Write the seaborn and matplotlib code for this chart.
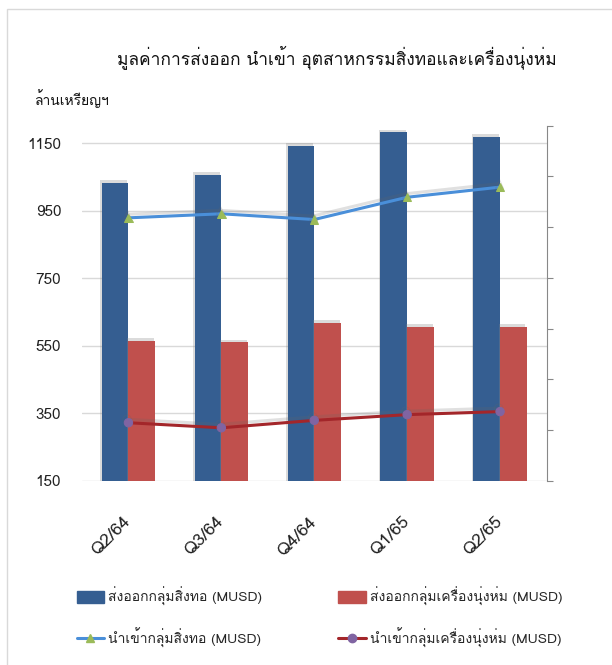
import numpy as np
import pandas as pd
import matplotlib
matplotlib.use("Agg")
import matplotlib.pyplot as plt
import matplotlib.patheffects as pe
import seaborn as sns
from matplotlib import font_manager
from fontTools.ttLib import TTFont

# Chart values (million USD)
quarters = ["Q2/64", "Q3/64", "Q4/64", "Q1/65", "Q2/65"]
export_textile = [1032, 1056, 1142, 1182, 1168]
export_garment = [565, 560, 617, 606, 606]
import_textile = [929, 941, 924, 990, 1020]
import_garment = [322, 307, 329, 346, 355]

series_names = ["ส่งออกกลุ่มสิ่งทอ (MUSD)", "ส่งออกกลุ่มเครื่องนุ่งห่ม (MUSD)",
                "นำเข้ากลุ่มสิ่งทอ (MUSD)", "นำเข้ากลุ่มเครื่องนุ่งห่ม (MUSD)"]
y_ticks = [150, 350, 550, 750, 950, 1150]
title = "มูลค่าการส่งออก นำเข้า อุตสาหกรรมสิ่งทอและเครื่องนุ่งห่ม"
unit_label = "ล้านเหรียญฯ"


def find_thai_family():
    found = []
    for f in font_manager.fontManager.ttflist:
        try:
            cmap = TTFont(f.fname, fontNumber=0, lazy=True).getBestCmap()
        except Exception:
            continue
        if cmap and 0x0E01 in cmap and 0x0E33 in cmap:
            found.append(f.name)
    return found[0] if found else None


sns.set_style("white")
thai = find_thai_family()
families = ["Liberation Sans", "DejaVu Sans"]
if thai:
    families = [thai] + families
plt.rcParams["font.family"] = families

bars = pd.DataFrame({
    "quarter": quarters * 2,
    "value": export_textile + export_garment,
    "series": [series_names[0]] * 5 + [series_names[1]] * 5,
})

fig = plt.figure(figsize=(6.12, 6.65), dpi=100)
ax = fig.add_axes([0.134, 0.277, 0.759, 0.534])

sns.barplot(data=bars, x="quarter", y="value", hue="series",
            palette=["#355E91", "#C0504D"], width=0.576, gap=0,
            saturation=1, linewidth=0, ax=ax, legend=False)
for p in ax.patches:
    p.set_path_effects([pe.SimplePatchShadow(offset=(-1, 2), shadow_rgbFace="#888888", alpha=0.3),
                        pe.Normal()])

xs = np.arange(len(quarters))
sns.lineplot(x=xs, y=import_textile, color="#4A8FD9", lw=2.2, marker="^",
             markersize=6, markerfacecolor="#9BBB59", markeredgecolor="#9BBB59", ax=ax)
sns.lineplot(x=xs, y=import_garment, color="#A3262A", lw=2.2, marker="o",
             markersize=6, markerfacecolor="#8064A2", markeredgecolor="#8064A2", ax=ax)
for ln in ax.lines:
    ln.set_path_effects([pe.SimpleLineShadow(offset=(-1, 2.5), shadow_color="#666666", alpha=0.2),
                         pe.Normal()])

ax.set_xlim(-0.5, len(quarters) - 0.5)
ax.set_ylim(150, 1202)
ax.set_yticks(y_ticks)
ax.set_yticklabels([str(v) for v in y_ticks], fontsize=11)
ax.set_xticks(xs)
ax.set_xticklabels(quarters, rotation=45, ha="right", va="center",
                   rotation_mode="anchor", fontsize=12.5)
ax.tick_params(axis="y", length=0, pad=15, colors="#222222")
ax.tick_params(axis="x", length=0, pad=28, colors="#222222")
ax.grid(axis="y", color="#D9D9D9", lw=1)
ax.set_axisbelow(True)
ax.set_xlabel("")
ax.set_ylabel("")
for s in ax.spines.values():
    s.set_visible(False)

# secondary axis on the right, no labels
ax2 = ax.twinx()
ax2.set_ylim(0, 7)
ax2.set_yticks(range(8))
ax2.set_yticklabels([])
ax2.tick_params(axis="y", length=4, color="#888888", direction="out")
for k, s in ax2.spines.items():
    s.set_visible(k == "right")
ax2.spines["right"].set_color("#888888")

fig.text(0.551, 0.914, title, ha="center", va="center", fontsize=12.5, color="#111111")
fig.text(0.057, 0.852, unit_label, ha="left", va="center", fontsize=10, color="#111111")

h_bar1 = plt.Rectangle((0, 0), 1, 1, color="#355E91")
h_bar2 = plt.Rectangle((0, 0), 1, 1, color="#C0504D")
h_ln1 = plt.Line2D([], [], color="#4A8FD9", lw=2.2, marker="^", markersize=6,
                   markerfacecolor="#9BBB59", markeredgecolor="#9BBB59")
h_ln2 = plt.Line2D([], [], color="#A3262A", lw=2.2, marker="o", markersize=6,
                   markerfacecolor="#8064A2", markeredgecolor="#8064A2")
leg_kw = dict(loc="upper left", frameon=False, fontsize=10, handlelength=2.0,
              handleheight=1.0, handletextpad=0.3, labelspacing=1.6,
              borderaxespad=0, borderpad=0)
fig.legend([h_bar1, h_ln1], [series_names[0], series_names[2]],
           bbox_to_anchor=(0.125, 0.118), **leg_kw)
fig.legend([h_bar2, h_ln2], [series_names[1], series_names[3]],
           bbox_to_anchor=(0.553, 0.118), **leg_kw)

# light outer frame
fig.patches.append(plt.Rectangle((7 / 612, -0.02), 1.1, 1 - 9 / 665 + 0.02,
                                 transform=fig.transFigure, fill=False,
                                 edgecolor="#D9D9D9", lw=1))

fig.savefig("out.png", dpi=100)
